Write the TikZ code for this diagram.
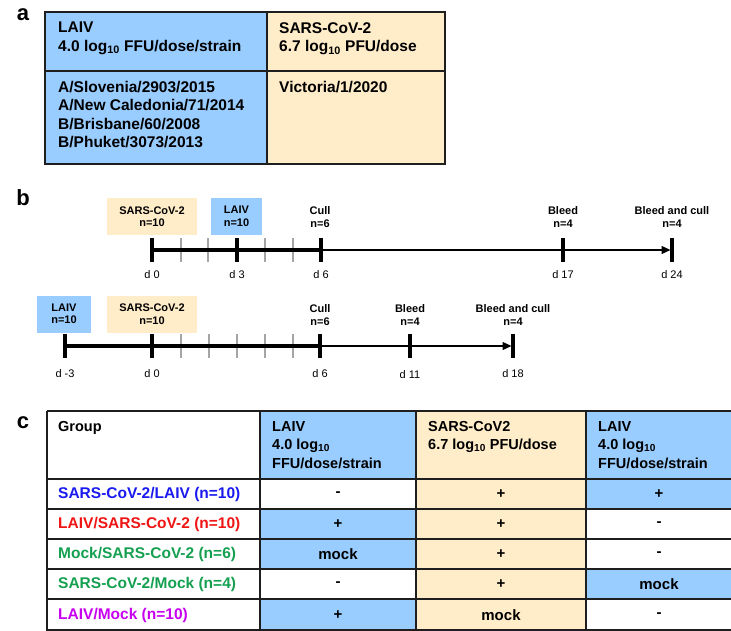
\documentclass[tikz,border=0pt]{standalone}
\usepackage{fontspec}
\setmainfont{Liberation Sans}
\usetikzlibrary{arrows.meta}

\definecolor{laivblue}{RGB}{153,204,255}
\definecolor{covbeige}{RGB}{255,236,200}
\definecolor{grpblue}{RGB}{25,25,240}
\definecolor{grpred}{RGB}{240,20,20}
\definecolor{grpgreen}{RGB}{20,160,80}
\definecolor{grpviolet}{RGB}{200,0,240}
\definecolor{tickgray}{RGB}{165,165,165}
\definecolor{rule}{RGB}{30,30,30}

\begin{document}
\begin{tikzpicture}[x=1pt,y=-1pt,
    panel/.style={anchor=base,inner sep=0pt,font=\fontsize{22}{22}\selectfont\bfseries},
    celltext/.style={anchor=north west,inner sep=0pt,align=left,font=\fontsize{15.5}{18.5}\selectfont\bfseries},
    headtext/.style={anchor=north west,inner sep=0pt,align=left,font=\fontsize{14.5}{18.5}\selectfont\bfseries},
    cellmid/.style={inner sep=0pt,font=\fontsize{15}{16}\selectfont\bfseries},
    grouptext/.style={anchor=west,inner sep=0pt,font=\fontsize{15.5}{16}\selectfont\bfseries},
    event/.style={align=center,inner sep=0pt,font=\fontsize{11}{12.5}\selectfont\bfseries},
    eventbox/.style={event,minimum height=37pt},
    daytext/.style={inner sep=0pt,font=\fontsize{11}{12}\selectfont},
    majortick/.style={line width=3.5pt},
    minortick/.style={line width=2.5pt,tickgray},
    grid/.style={line width=2pt,rule},
    ]
    \useasboundingbox (0,0) rectangle (731,631);

    % panel a
    \node[panel] (pa) at (23,21) {a};
    \fill[laivblue] (45,12) rectangle (267,164);
    \fill[covbeige] (267,12) rectangle (445,164);
    \draw[line width=1.5pt,rule] (45,12) rectangle (445,164);
    \draw[line width=1.5pt,rule] (267,12) -- (267,164);
    \draw[line width=1.5pt,rule] (45,71) -- (445,71);

    \node[celltext] (laivdose) at (58,22) {LAIV\\4.0 log\textsubscript{10} FFU/dose/strain};
    \node[celltext] (covdose)  at (279,22) {SARS-CoV-2\\6.7 log\textsubscript{10} PFU/dose};
    \node[celltext] (strains)  at (58,81) {A/Slovenia/2903/2015\\A/New Caledonia/71/2014\\B/Brisbane/60/2008\\B/Phuket/3073/2013};
    \node[celltext] (victoria) at (279,81) {Victoria/1/2020};

    % panel b, first timeline
    \node[panel] (pb) at (23,206) {b};
    \node[eventbox,fill=covbeige,minimum width=90pt] (cov1)  at (152,216.5) {SARS-CoV-2\\n=10};
    \node[eventbox,fill=laivblue,minimum width=51pt] (laiv1) at (236.5,216.5) {LAIV\\n=10};
    \node[event] (cull1)  at (320,217) {Cull\\n=6};
    \node[event] (bleed1) at (563,217) {Bleed\\n=4};
    \node[event] (end1)   at (672,217) {Bleed and cull\\n=4};

    \coordinate (a0)  at (152,250);
    \coordinate (a1)  at (181,250);
    \coordinate (a2)  at (208,250);
    \coordinate (a3)  at (237,250);
    \coordinate (a4)  at (265,250);
    \coordinate (a5)  at (293,250);
    \coordinate (a6)  at (321,250);
    \coordinate (a17) at (563,250);
    \coordinate (a24) at (672,250);

    \draw[minortick] (a1) ++(0,-12) -- ++(0,24);
    \draw[minortick] (a2) ++(0,-12) -- ++(0,24);
    \draw[minortick] (a4) ++(0,-12) -- ++(0,24);
    \draw[minortick] (a5) ++(0,-12) -- ++(0,24);
    \draw[line width=3.5pt] (a0) -- (a6);
    \draw[line width=1.3pt,-{Triangle[length=9pt,width=8pt]},shorten >=1.5pt] (a6) -- (a24);
    \draw[majortick] (a0) ++(0,-12) -- ++(0,24);
    \draw[majortick] (a3) ++(0,-12) -- ++(0,24);
    \draw[majortick] (a6) ++(0,-12) -- ++(0,24);
    \draw[majortick] (a17) ++(0,-12) -- ++(0,24);
    \draw[majortick] (a24) ++(0,-12) -- ++(0,24);

    \node[daytext] (da0)  at (152,275) {d 0};
    \node[daytext] (da3)  at (237,275) {d 3};
    \node[daytext] (da6)  at (321,275) {d 6};
    \node[daytext] (da17) at (563,275) {d 17};
    \node[daytext] (da24) at (672,275) {d 24};

    % panel b, second timeline
    \node[eventbox,fill=laivblue,minimum width=54pt] (laiv2) at (64,314) {LAIV\\n=10};
    \node[eventbox,fill=covbeige,minimum width=90pt] (cov2)  at (152,314) {SARS-CoV-2\\n=10};
    \node[event] (cull2)  at (320,315) {Cull\\n=6};
    \node[event] (bleed2) at (410,315) {Bleed\\n=4};
    \node[event] (end2)   at (513,315) {Bleed and cull\\n=4};

    \coordinate (bm3) at (65,346);
    \coordinate (b0)  at (152,346);
    \coordinate (b1)  at (181,346);
    \coordinate (b2)  at (209,346);
    \coordinate (b3)  at (237,346);
    \coordinate (b4)  at (265,346);
    \coordinate (b5)  at (293,346);
    \coordinate (b6)  at (320,346);
    \coordinate (b11) at (410,346);
    \coordinate (b18) at (513,346);

    \draw[minortick] (b1) ++(0,-12) -- ++(0,24);
    \draw[minortick] (b2) ++(0,-12) -- ++(0,24);
    \draw[minortick] (b3) ++(0,-12) -- ++(0,24);
    \draw[minortick] (b4) ++(0,-12) -- ++(0,24);
    \draw[minortick] (b5) ++(0,-12) -- ++(0,24);
    \draw[line width=3.5pt] (bm3) -- (b6);
    \draw[line width=1.3pt,-{Triangle[length=9pt,width=8pt]},shorten >=1.5pt] (b6) -- (b18);
    \draw[majortick] (bm3) ++(0,-12) -- ++(0,24);
    \draw[majortick] (b0) ++(0,-12) -- ++(0,24);
    \draw[majortick] (b6) ++(0,-12) -- ++(0,24);
    \draw[majortick] (b11) ++(0,-12) -- ++(0,24);
    \draw[majortick] (b18) ++(0,-12) -- ++(0,24);

    \node[daytext] (dbm3) at (65,374) {d -3};
    \node[daytext] (db0)  at (152,374) {d 0};
    \node[daytext] (db6)  at (320,374) {d 6};
    \node[daytext] (db11) at (410,375) {d 11};
    \node[daytext] (db18) at (513,374) {d 18};

    % panel c
    \node[panel] (pc) at (23,428) {c};
    \fill[laivblue] (260,411) rectangle (416,479);
    \fill[laivblue] (260,509) rectangle (416,569);
    \fill[laivblue] (260,599) rectangle (416,633);
    \fill[covbeige] (416,411) rectangle (586,633);
    \fill[laivblue] (586,411) rectangle (740,509);
    \fill[laivblue] (586,569) rectangle (740,599);

    \draw[grid] (47,411) -- (740,411);
    \draw[grid] (47,479) -- (740,479);
    \draw[grid] (47,509) -- (740,509);
    \draw[grid] (47,539) -- (740,539);
    \draw[grid] (47,569) -- (740,569);
    \draw[grid] (47,599) -- (740,599);
    \draw[grid] (47,630) -- (740,630);
    \draw[grid] (47,411) -- (47,633);
    \draw[grid] (260,411) -- (260,633);
    \draw[grid] (416,411) -- (416,633);
    \draw[grid] (586,411) -- (586,633);

    \node[headtext] (group) at (58,421) {Group};
    \node[headtext] (head1) at (272,421) {LAIV\\4.0 log\textsubscript{10}\\FFU/dose/strain};
    \node[headtext] (head2) at (428,421) {SARS-CoV2\\6.7 log\textsubscript{10} PFU/dose};
    \node[headtext] (head3) at (598,421) {LAIV\\4.0 log\textsubscript{10}\\FFU/dose/strain};

    \node[grouptext,grpblue]   (g1) at (58,494) {SARS-CoV-2/LAIV (n=10)};
    \node[grouptext,grpred]    (g2) at (58,524) {LAIV/SARS-CoV-2 (n=10)};
    \node[grouptext,grpgreen]  (g3) at (58,554) {Mock/SARS-CoV-2 (n=6)};
    \node[grouptext,grpgreen]  (g4) at (58,584) {SARS-CoV-2/Mock (n=4)};
    \node[grouptext,grpviolet] (g5) at (58,615) {LAIV/Mock (n=10)};

    \node[cellmid] (r1a) at (338,494) {-};
    \node[cellmid] (r1b) at (501,494) {+};
    \node[cellmid] (r1c) at (659,494) {+};
    \node[cellmid] (r2a) at (338,524) {+};
    \node[cellmid] (r2b) at (501,524) {+};
    \node[cellmid] (r2c) at (659,524) {-};
    \node[cellmid] (r3a) at (338,554) {mock};
    \node[cellmid] (r3b) at (501,554) {+};
    \node[cellmid] (r3c) at (659,554) {-};
    \node[cellmid] (r4a) at (338,584) {-};
    \node[cellmid] (r4b) at (501,584) {+};
    \node[cellmid] (r4c) at (659,584) {mock};
    \node[cellmid] (r5a) at (338,615) {+};
    \node[cellmid] (r5b) at (501,615) {mock};
    \node[cellmid] (r5c) at (659,615) {-};
\end{tikzpicture}
\end{document}
